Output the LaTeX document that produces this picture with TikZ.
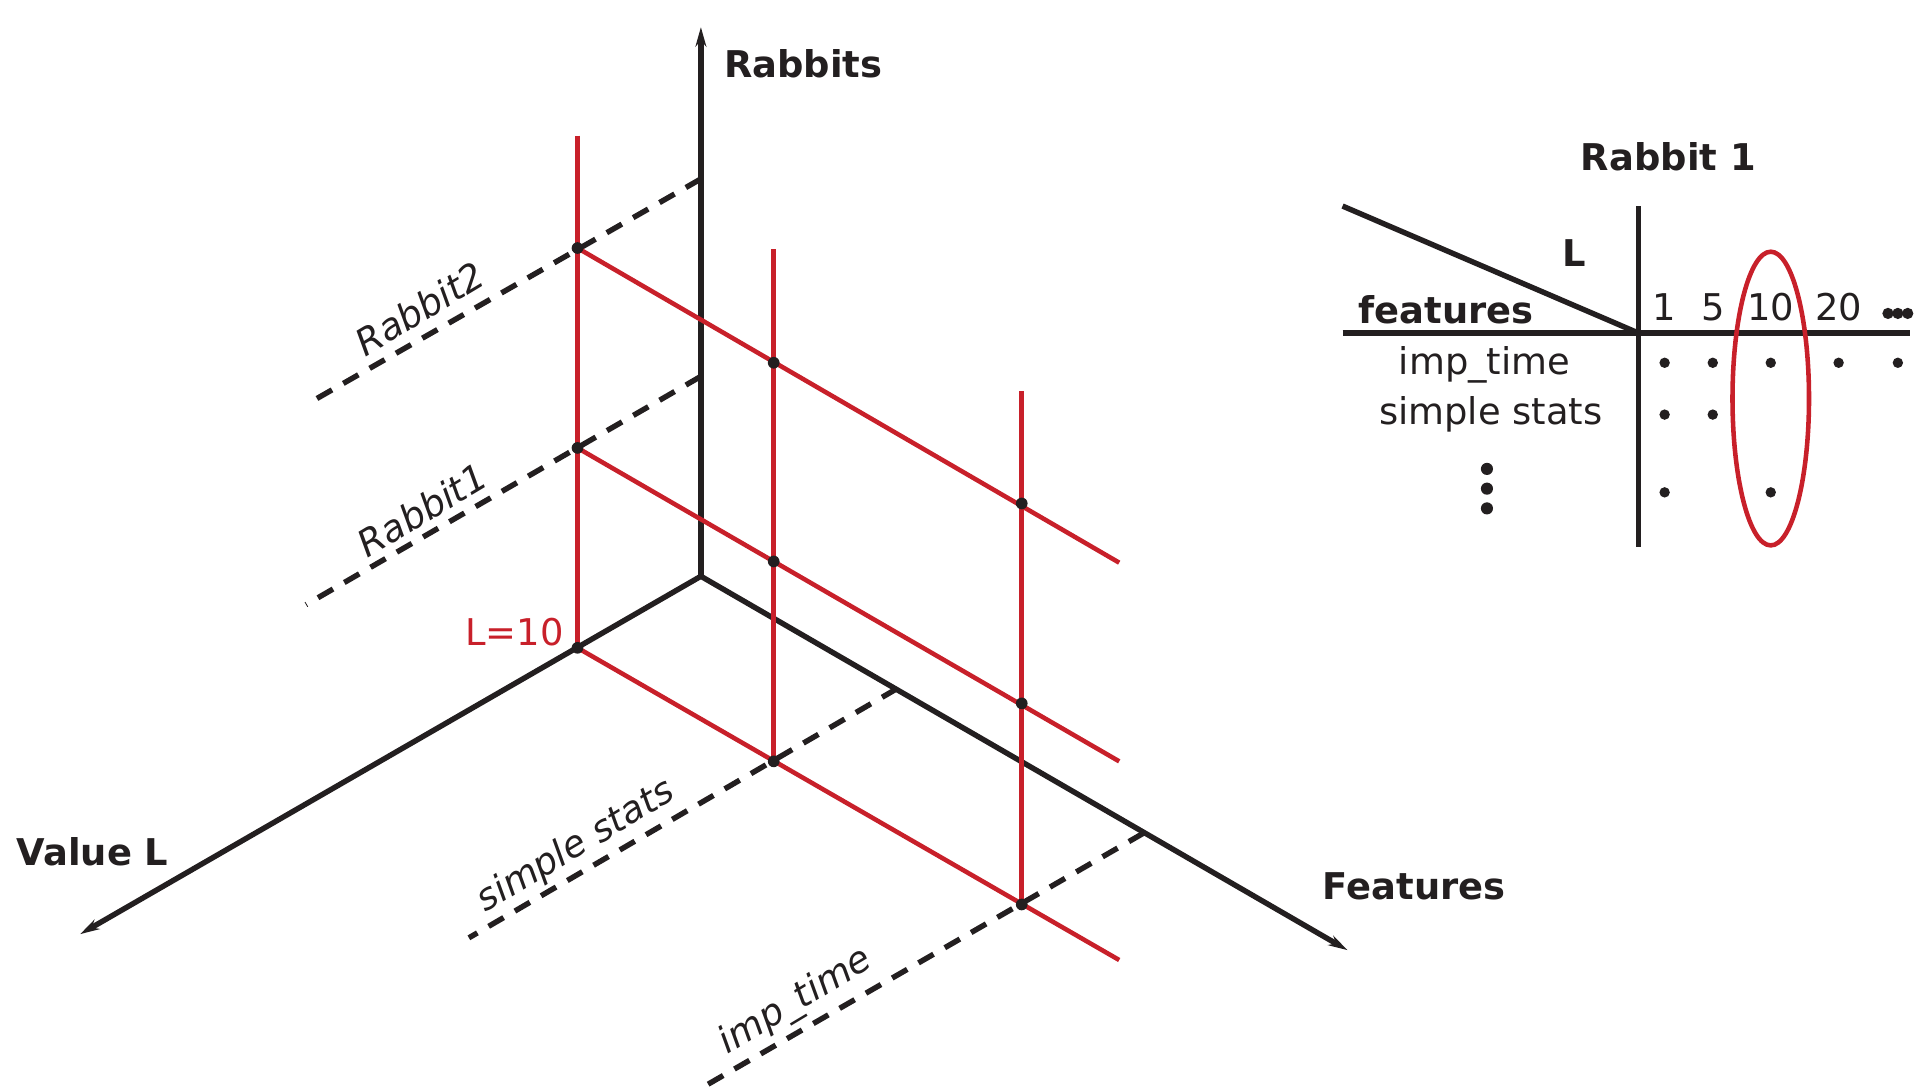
\documentclass[tikz,border=0pt]{standalone}
\usepackage{fontspec}
\setmainfont{DejaVu Sans}
\usetikzlibrary{arrows.meta}
\definecolor{rd}{HTML}{C8202A}
\definecolor{bk}{HTML}{231F20}
\begin{document}
\begin{tikzpicture}[x=0.02cm,y=-0.02cm,
  axis/.style={bk,line width=2.5pt,-{Stealth[length=9pt,width=5pt]}},
  redl/.style={rd,line width=2.1pt},
  dsh/.style={bk,line width=2.5pt,dash pattern=on 8pt off 6pt},
  blk/.style={bk,line width=2.5pt},
  pt/.style={circle,inner sep=0pt,minimum size=5pt},
  lab/.style={font=\fontsize{17}{20}\selectfont\bfseries,text=bk},
  ital/.style={font=\fontsize{17}{20}\selectfont\itshape,text=bk,rotate=31},
  txt/.style={font=\fontsize{17}{20}\selectfont,text=bk}]
\useasboundingbox (0,0) rectangle (1560,884);
\coordinate (O) at (568,467);
\coordinate (R) at (568,22);
\coordinate (V) at (65,757);
\coordinate (F) at (1092,770);
% dashed lines
\coordinate (r2a) at (568,145); \coordinate (r2b) at (248,328);
\coordinate (r1a) at (568,305); \coordinate (r1b) at (248,490);
\coordinate (ssa) at (727,558); \coordinate (ssb) at (380,760);
\coordinate (ita) at (927,675); \coordinate (itb) at (568,882);
\draw[dsh] (r2a) -- (r2b);
\draw[dsh] (r1a) -- (r1b);
\draw[dsh] (ssa) -- (ssb);
\draw[dsh] (ita) -- (itb);
\draw[axis] (O) -- (R);
\draw[axis] (O) -- (V);
\draw[axis] (O) -- (F);
% red grid
\node[pt] (a1) at (468,201) {}; \node[pt] (a2) at (468,363) {}; \node[pt] (a3) at (468,525) {};
\node[pt] (b1) at (627,294) {}; \node[pt] (b2) at (627,455) {}; \node[pt] (b3) at (627,617) {};
\node[pt] (c1) at (828,408) {}; \node[pt] (c2) at (828,570) {}; \node[pt] (c3) at (828,733) {};
\coordinate (ta) at (468,110); \coordinate (tb) at (627,202); \coordinate (tc) at (828,317);
\coordinate (e1) at (907,456); \coordinate (e2) at (907,617); \coordinate (e3) at (907,778);
\draw[redl] (ta) -- (a3.center);
\draw[redl] (tb) -- (b3.center);
\draw[redl] (tc) -- (c3.center);
\draw[redl] (a1.center) -- (e1);
\draw[redl] (a2.center) -- (e2);
\draw[redl] (a3.center) -- (e3);
\foreach \n in {a1,a2,a3,b1,b2,b3,c1,c2,c3} \fill[bk] (\n) circle (2.7pt);
% labels
\node[lab] (lr) at (651,52) {Rabbits};
\node[lab] (lv) at (75,690) {Value L};
\node[lab] (lf) at (1146,718) {Features};
\node[font=\fontsize{17}{20}\selectfont,text=rd] (l10) at (417,512) {L=10};
\node[ital] (n2) at (340,250) {Rabbit2};
\node[ital] (n1) at (342,413) {Rabbit1};
\node[ital] (nss) at (467,686) {simple stats};
\node[ital] (nit) at (645,812) {imp\_time};
% table
\node[lab] (t) at (1352,127) {Rabbit 1};
\coordinate (dA) at (1088,167); \coordinate (X) at (1328,270);
\coordinate (vA) at (1328,167); \coordinate (vB) at (1328,443);
\coordinate (hA) at (1088,270); \coordinate (hB) at (1548,270);
\draw[blk] (dA) -- (X);
\draw[blk] (vA) -- (vB);
\draw[blk] (hA) -- (hB);
\node[lab] (tl) at (1276,205) {L};
\node[lab] (tf) at (1172,251) {features};
\node[txt] (h1) at (1349,249) {1};
\node[txt] (h5) at (1388,249) {5};
\node[txt] (h10) at (1435,249) {10};
\node[txt] (h20) at (1490,249) {20};
\foreach \x in {1530,1538,1546} \fill[bk] (\x,254) circle (2.6pt);
\node[txt] (ri) at (1203,296) {imp\_time};
\node[txt] (rs) at (1208,336) {simple stats};
\foreach \x in {1349,1388,1435,1490,1538} \fill[bk] (\x,294) circle (2.4pt);
\foreach \x in {1349,1388} \fill[bk] (\x,336) circle (2.4pt);
\foreach \x in {1349,1435} \fill[bk] (\x,399) circle (2.4pt);
\foreach \y in {380,396,412} \fill[bk] (1205,\y) circle (2.8pt);
\coordinate (elc) at (1435,323);
\draw[rd,line width=2.1pt] (elc) ellipse [x radius=31, y radius=119];
\end{tikzpicture}
\end{document}
